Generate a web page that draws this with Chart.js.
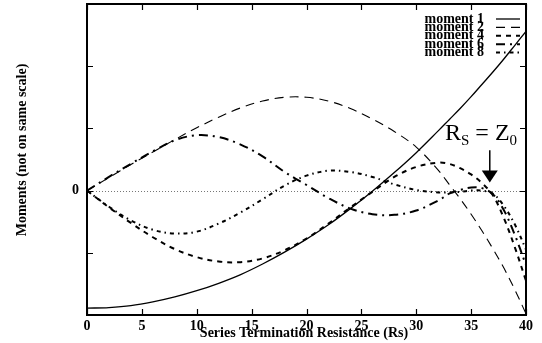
<!DOCTYPE html>
<html>
<head>
<meta charset="utf-8">
<script src="https://cdn.jsdelivr.net/npm/chart.js@4.4.1/dist/chart.umd.min.js"></script>
<style>
  html, body { margin: 0; padding: 0; background: #fff; }
  canvas { display: block; }
</style>
</head>
<body>
<canvas id="chart" width="542" height="343"></canvas>
<script>
// ── data ─────────────────────────────────────────────────────────────────────
const rs      = [0, 2, 4, 6, 8, 10, 12, 14, 16, 18, 20, 22, 24, 26, 28, 30, 32, 33, 34, 35, 36, 37, 38, 39, 40];
const moment1 = [-1.89, -1.88, -1.85, -1.79, -1.71, -1.61, -1.49, -1.35, -1.18, -0.99, -0.78, -0.55, -0.29, -0.01, 0.29, 0.61, 0.96, 1.14, 1.32, 1.51, 1.71, 1.91, 2.12, 2.34, 2.56];
const moment2 = [0, 0.21, 0.42, 0.62, 0.82, 1.01, 1.18, 1.33, 1.44, 1.50, 1.50, 1.44, 1.32, 1.15, 0.95, 0.70, 0.33, 0.10, -0.13, -0.38, -0.65, -0.94, -1.25, -1.60, -1.98];
const moment4 = [0, -0.27, -0.52, -0.75, -0.94, -1.07, -1.14, -1.15, -1.09, -0.96, -0.77, -0.53, -0.27, -0.02, 0.22, 0.38, 0.45, 0.43, 0.36, 0.26, 0.12, -0.08, -0.45, -0.92, -1.45];
const moment6 = [0, 0.22, 0.43, 0.63, 0.81, 0.89, 0.86, 0.74, 0.55, 0.30, 0.09, -0.12, -0.29, -0.38, -0.39, -0.32, -0.16, -0.05, 0.01, 0.05, 0.04, -0.06, -0.32, -0.72, -1.20];
const moment8 = [0, -0.26, -0.48, -0.63, -0.69, -0.66, -0.53, -0.35, -0.14, 0.08, 0.24, 0.32, 0.30, 0.22, 0.10, 0.01, -0.03, -0.03, -0.02, 0.00, 0.00, -0.05, -0.25, -0.55, -0.95];

const seriesNames = ['moment 1', 'moment 2', 'moment 4', 'moment 6', 'moment 8'];
const xTickVals   = [0, 5, 10, 15, 20, 25, 30, 35, 40];
const yTickVals   = [-2, -1, 0, 1, 2, 3];
const yLabelled   = [0];

const SERIF = '"Liberation Serif", "DejaVu Serif", serif';
const toPts = ys => ys.map((y, i) => ({ x: rs[i], y }));

// ── frame, ticks, legend, annotation ─────────────────────────────────────────
const decor = {
  id: 'decor',
  beforeDatasetsDraw(chart) {
    const { ctx, chartArea: a, scales: { y } } = chart;
    const y0 = Math.round(y.getPixelForValue(0)) + 0.5;
    ctx.save();
    ctx.strokeStyle = '#777';
    ctx.lineWidth = 1;
    ctx.setLineDash([1, 2]);
    ctx.beginPath(); ctx.moveTo(a.left, y0); ctx.lineTo(a.right, y0); ctx.stroke();
    ctx.restore();
  },
  afterDatasetsDraw(chart) {
    const { ctx, chartArea: a, scales: { x, y } } = chart;
    ctx.save();
    ctx.strokeStyle = '#000';
    ctx.lineWidth = 2;
    ctx.strokeRect(a.left, a.top, a.right - a.left, a.bottom - a.top);

    ctx.lineWidth = 1.2;
    ctx.beginPath();
    xTickVals.forEach(v => {
      const px = Math.round(x.getPixelForValue(v)) + 0.5;
      ctx.moveTo(px, a.bottom); ctx.lineTo(px, a.bottom - 6);
      ctx.moveTo(px, a.top);    ctx.lineTo(px, a.top + 6);
    });
    yTickVals.forEach(v => {
      const py = Math.round(y.getPixelForValue(v)) + 0.5;
      ctx.moveTo(a.left, py);  ctx.lineTo(a.left + 6, py);
      ctx.moveTo(a.right, py); ctx.lineTo(a.right - 6, py);
    });
    ctx.stroke();

    // legend (tight rows, right aligned text)
    ctx.font = 'bold 14px ' + SERIF;
    ctx.textAlign = 'right';
    ctx.textBaseline = 'middle';
    ctx.fillStyle = '#000';
    chart.data.datasets.forEach((ds, i) => {
      const ly = 19 + i * 8.4;
      ctx.fillText(ds.label, 484, ly);
      ctx.lineWidth = ds.borderWidth;
      ctx.setLineDash(ds.borderDash || []);
      ctx.beginPath(); ctx.moveTo(496, ly); ctx.lineTo(520, ly); ctx.stroke();
    });
    ctx.setLineDash([]);

    // R_S = Z_0 annotation with arrow
    ctx.textAlign = 'left';
    ctx.textBaseline = 'alphabetic';
    let tx = 445;
    const base = 140;
    const put = (s, size, dy) => {
      ctx.font = size + 'px ' + SERIF;
      ctx.fillText(s, tx, base + dy);
      tx += ctx.measureText(s).width;
    };
    put('R', 24, 0); put('S', 15, 5); put(' = Z', 24, 0); put('0', 15, 5);

    const ax = x.getPixelForValue(36.7);
    const aTop = y.getPixelForValue(0.65);
    const aTip = y.getPixelForValue(0.13);
    ctx.lineWidth = 1.5;
    ctx.beginPath(); ctx.moveTo(ax, aTop); ctx.lineTo(ax, aTip - 10); ctx.stroke();
    ctx.beginPath();
    ctx.moveTo(ax - 8, aTip - 12); ctx.lineTo(ax + 8, aTip - 12); ctx.lineTo(ax, aTip);
    ctx.closePath(); ctx.fill();

    // axis titles
    ctx.font = 'bold 14px ' + SERIF;
    ctx.textAlign = 'center';
    ctx.textBaseline = 'middle';
    ctx.fillText('Series Termination Resistance (Rs)', 304, 333);
    ctx.translate(22, 150);
    ctx.rotate(-Math.PI / 2);
    ctx.fillText('Moments (not on same scale)', 0, 0);
    ctx.restore();
  }
};

const line = (label, ys, width, dash) => ({
  label, data: toPts(ys), borderColor: '#000', borderWidth: width, borderDash: dash,
  pointRadius: 0, tension: 0.35, fill: false
});

new Chart(document.getElementById('chart'), {
  type: 'line',
  data: {
    datasets: [
      line(seriesNames[0], moment1, 1.3, []),
      line(seriesNames[1], moment2, 1.1, [9, 6]),
      line(seriesNames[2], moment4, 2, [5, 5]),
      line(seriesNames[3], moment6, 2, [9, 5, 2, 5]),
      line(seriesNames[4], moment8, 2, [4, 4, 1.5, 4])
    ]
  },
  options: {
    responsive: false,
    animation: false,
    layout: { padding: { top: 4, right: 16, left: 0, bottom: 0 } },
    plugins: { legend: { display: false }, tooltip: { enabled: false } },
    scales: {
      x: {
        type: 'linear', min: 0, max: 40,
        afterFit: s => { s.height = 28; s.paddingLeft = 0; s.paddingRight = 0; },
        afterBuildTicks: s => { s.ticks = xTickVals.map(v => ({ value: v })); },
        grid: { display: false }, border: { display: false },
        ticks: { color: '#000', padding: -5, maxRotation: 0, autoSkip: false,
                 font: { family: SERIF, size: 14, weight: 'bold' } }
      },
      y: {
        min: -2, max: 3,
        afterFit: s => { s.width = 87; s.paddingTop = 0; s.paddingBottom = 0; },
        afterBuildTicks: s => { s.ticks = yLabelled.map(v => ({ value: v })); },
        grid: { display: false }, border: { display: false },
        ticks: { color: '#000', padding: 0,
                 callback: v => String(v),
                 font: { family: SERIF, size: 14, weight: 'bold' } }
      }
    }
  },
  plugins: [decor]
});
</script>
</body>
</html>
